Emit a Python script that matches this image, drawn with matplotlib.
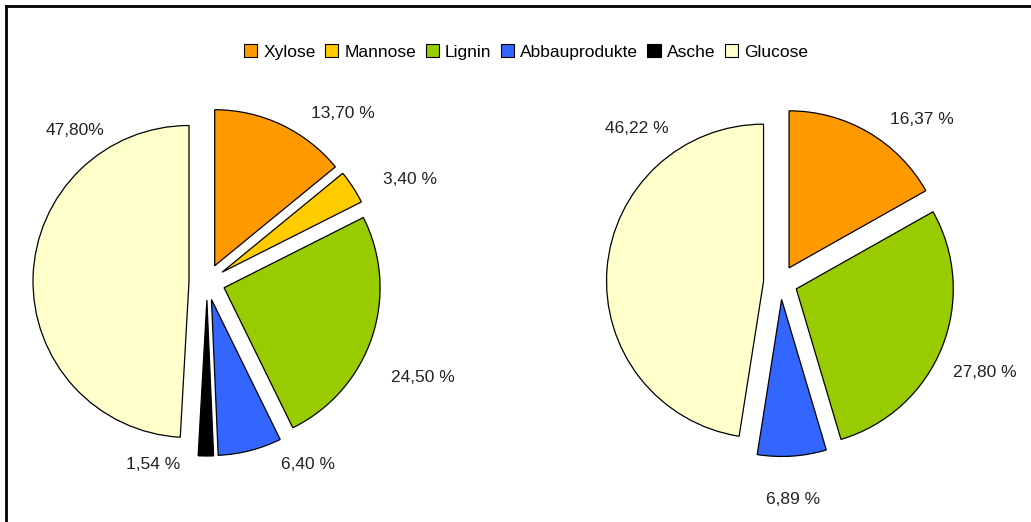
import matplotlib
matplotlib.use("Agg")
import matplotlib.pyplot as plt
from matplotlib.patches import Patch
from matplotlib.lines import Line2D

plt.rcParams['font.family'] = ['Liberation Sans', 'DejaVu Sans']

# ---- data ----
categories = ["Xylose", "Mannose", "Lignin", "Abbauprodukte", "Asche", "Glucose"]
colors = ["#FF9900", "#FFCC00", "#99CC00", "#3366FF", "#000000", "#FFFFCC"]

left_values = [13.70, 3.40, 24.50, 6.40, 1.54, 47.80]
left_labels = ["13,70 %", "3,40 %", "24,50 %", "6,40 %", "1,54 %", "47,80%"]

right_cats = ["Xylose", "Lignin", "Abbauprodukte", "Glucose"]
right_values = [16.37, 27.80, 6.89, 46.22]
right_labels = ["16,37 %", "27,80 %", "6,89 %", "46,22 %"]

# label positions (in pie radius units) – style
left_label_pos = [(0.872, 1.083), (1.301, 0.660), (1.385, -0.609),
                  (0.647, -1.167), (-0.346, -1.173), (-0.846, 0.974)]
right_label_pos = [(0.901, 1.041), (1.303, -0.576), (0.080, -1.379),
                   (-0.914, 0.984)]

W, H = 1031, 522
fig = plt.figure(figsize=(W / 100, H / 100), dpi=100)
fig.patch.set_facecolor("white")

cmap = dict(zip(categories, colors))


def add_pie(cx, cy, r_px, values, cats, labels, label_pos, explode_frac):
    half = 200
    ax = fig.add_axes([(cx - half) / W, (H - cy - half) / H, 2 * half / W, 2 * half / H])
    lim = half / r_px
    ax.pie(values, colors=[cmap[c] for c in cats], startangle=90, counterclock=False,
           explode=[explode_frac] * len(values), radius=1.0,
           wedgeprops=dict(edgecolor="black", linewidth=0.9))
    for lab, (x, y) in zip(labels, label_pos):
        ax.text(x, y, lab, ha="center", va="center", fontsize=12.5, color="#222222")
    ax.set_xlim(-lim, lim)
    ax.set_ylim(-lim, lim)
    ax.set_aspect("equal")
    ax.axis("off")


add_pie(207, 282, 156, left_values, categories, left_labels, left_label_pos, 18 / 156)
add_pie(780.5, 282.5, 157, right_values, right_cats, right_labels, right_label_pos, 17 / 157)

handles = [Patch(facecolor=c, edgecolor="black", linewidth=0.8) for c in colors]
fig.legend(handles, categories, loc="center", bbox_to_anchor=(526 / W, 1 - 52 / H),
           ncol=6, frameon=False, fontsize=12.5, handlelength=0.75, handleheight=0.75,
           handletextpad=0.35, columnspacing=0.55, borderaxespad=0)

# outer frame
fig.add_artist(Line2D([6 / W, 1.0], [1 - 6 / H, 1 - 6 / H], transform=fig.transFigure,
                      color="black", linewidth=2))
fig.add_artist(Line2D([6 / W, 6 / W], [0, 1 - 6 / H], transform=fig.transFigure,
                      color="black", linewidth=2))

fig.savefig("out.png", dpi=100)
